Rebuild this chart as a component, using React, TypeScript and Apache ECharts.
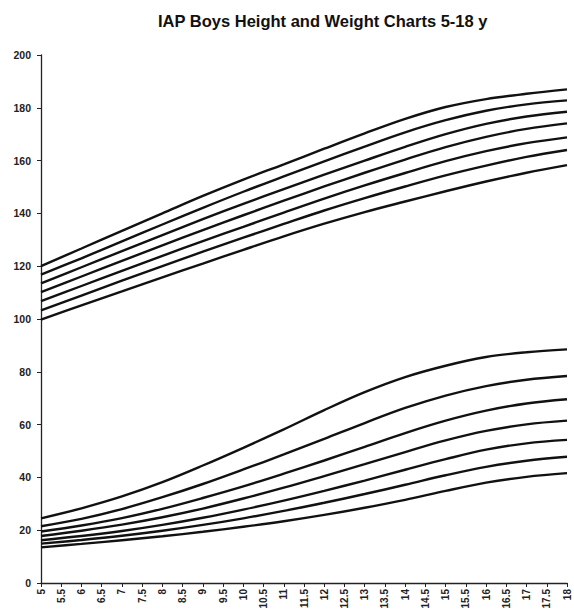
import React, { useEffect, useRef } from "react";
import * as echarts from "echarts";

const ages = [5, 6, 7, 8, 9, 10, 11, 12, 13, 14, 15, 16, 17, 18];

// Height (cm) percentile curves, top to bottom
const height97 = [120, 126.7, 133.4, 140, 146.6, 152.8, 158.6, 164.5, 170.3, 175.8, 180.3, 183.3, 185.3, 187];
const height90 = [116.8, 123, 129.4, 135.8, 142.1, 148.2, 154, 159.7, 165.3, 170.7, 175.3, 178.9, 181.3, 182.8];
const height75 = [113.5, 119.6, 125.7, 131.8, 137.8, 143.6, 149.2, 154.7, 160, 165.2, 170, 173.9, 176.7, 178.5];
const height50 = [110.2, 116.1, 122, 127.9, 133.7, 139.3, 144.8, 150.2, 155.4, 160.4, 165.1, 169, 172, 174.1];
const height25 = [106.8, 112.5, 118.2, 123.9, 129.5, 134.9, 140.3, 145.6, 150.6, 155.3, 159.8, 163.6, 166.6, 168.8];
const height10 = [103.3, 108.9, 114.5, 120, 125.5, 130.8, 136, 141.1, 145.8, 150.2, 154.4, 158.1, 161.4, 164];
const height3 = [99.8, 105.2, 110.5, 115.8, 121, 126.2, 131.3, 136.1, 140.5, 144.5, 148.4, 152.1, 155.4, 158.3];

// Weight (kg) percentile curves, top to bottom
const weight97 = [24.5, 28.3, 32.8, 38.2, 44.5, 51.2, 58.2, 65.5, 72.3, 78, 82.3, 85.6, 87.4, 88.5];
const weight90 = [21.5, 24.3, 28, 32.5, 37.5, 43, 48.7, 54.6, 60.6, 66.3, 71, 74.6, 77, 78.4];
const weight75 = [19.5, 21.8, 24.6, 28.1, 32.2, 36.6, 41.4, 46.4, 51.6, 56.8, 61.5, 65.3, 68, 69.6];
const weight50 = [17.8, 19.8, 22.1, 24.9, 28.2, 32, 36.1, 40.5, 45, 49.6, 54, 57.6, 60.1, 61.5];
const weight25 = [16.2, 17.8, 19.7, 22, 24.7, 27.8, 31.2, 34.9, 38.8, 42.9, 46.9, 50.5, 52.9, 54.2];
const weight10 = [14.9, 16.3, 17.9, 19.8, 22, 24.5, 27.3, 30.4, 33.7, 37.2, 40.8, 44, 46.3, 47.8];
const weight3 = [13.5, 14.8, 16.2, 17.7, 19.4, 21.3, 23.4, 25.8, 28.5, 31.5, 34.9, 38, 40.2, 41.6];

const curves = [
  height97, height90, height75, height50, height25, height10, height3,
  weight97, weight90, weight75, weight50, weight25, weight10, weight3,
];

const titleText = "IAP Boys Height and Weight Charts 5-18 y";

export default function App() {
  const ref = useRef<HTMLDivElement>(null);
  useEffect(() => {
    if (!ref.current) return;
    const chart = echarts.init(ref.current, null, { renderer: "svg" });
    chart.setOption({
      animation: false,
      backgroundColor: "#ffffff",
      title: {
        text: titleText,
        left: 153,
        top: 7,
        textStyle: {
          fontFamily: "Liberation Sans, Arial, sans-serif",
          fontWeight: "bold",
          fontSize: 16.5,
          color: "#111",
        },
      },
      grid: { left: 41, right: 7, top: 55, bottom: 30, containLabel: false },
      xAxis: {
        type: "value",
        min: 5,
        max: 18,
        interval: 0.5,
        splitLine: { show: false },
        axisLine: { show: true, onZero: false, lineStyle: { color: "#222", width: 1.3 } },
        axisTick: { show: true, inside: false, length: 4, lineStyle: { color: "#222" } },
        axisLabel: {
          rotate: 90,
          margin: 6,
          fontFamily: "Liberation Sans, Arial, sans-serif",
          fontWeight: "bold",
          fontSize: 10,
          color: "#222",
          formatter: (v: number) => String(v),
        },
      },
      yAxis: {
        type: "value",
        min: 0,
        max: 200,
        interval: 20,
        splitLine: { show: false },
        axisLine: { show: true, lineStyle: { color: "#222", width: 1.3 } },
        axisTick: { show: true, inside: false, length: 4, lineStyle: { color: "#222" } },
        axisLabel: {
          margin: 10,
          fontFamily: "Liberation Sans, Arial, sans-serif",
          fontWeight: "bold",
          fontSize: 10.5,
          color: "#222",
        },
      },
      series: curves.map((vals, i) => ({
        type: "line",
        name: "c" + i,
        data: ages.map((a, j) => [a, vals[j]]),
        smooth: 0.35,
        showSymbol: false,
        symbol: "none",
        lineStyle: { color: "#111", width: 2.4 },
      })),
    });
    return () => chart.dispose();
  }, []);
  return <div ref={ref} style={{ width: 574, height: 613, position: "absolute", left: 0, top: 0 }} />;
}
